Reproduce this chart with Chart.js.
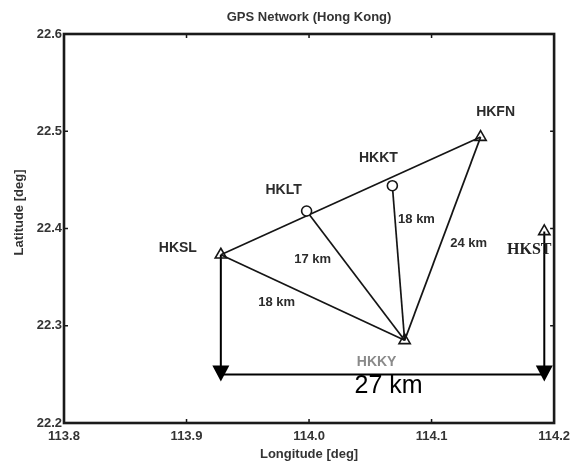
<!DOCTYPE html>
<html>
<head>
<meta charset="utf-8">
<script src="https://cdn.jsdelivr.net/npm/chart.js@4.4.1/dist/chart.umd.min.js"></script>
<style>
  html, body { margin: 0; padding: 0; background: #fff; }
  #wrap { width: 576px; height: 467px; position: relative; }
</style>
</head>
<body>
<div id="wrap"><canvas id="c" width="576" height="467"></canvas></div>
<script>
// GPS stations (longitude / latitude in degrees)
const stations   = ['HKSL', 'HKLT', 'HKKT', 'HKFN', 'HKKY', 'HKST'];
const longitudes = [113.928, 113.998, 114.068, 114.140, 114.078, 114.192];
const latitudes  = [22.373, 22.418, 22.444, 22.494, 22.285, 22.397];
const markerShapes = ['triangle', 'circle', 'circle', 'triangle', 'triangle', 'triangle'];

// baselines between stations and their lengths
const baselineFrom   = ['HKSL', 'HKSL', 'HKLT', 'HKKT', 'HKFN'];
const baselineTo     = ['HKFN', 'HKKY', 'HKKY', 'HKKY', 'HKKY'];
const baselineLabels = ['', '18 km', '17 km', '18 km', '24 km'];

// east-west span between HKSL and HKST
const spanFrom = 'HKSL';
const spanTo = 'HKST';
const spanLatitude = 22.25;
const spanLabel = '27 km';

// axis ticks
const xTicks = [113.8, 113.9, 114.0, 114.1, 114.2];
const yTicks = [22.2, 22.3, 22.4, 22.5, 22.6];

const titleText = 'GPS Network (Hong Kong)';
const xTitle = 'Longitude [deg]';
const yTitle = 'Latitude [deg]';

const at = name => { const i = stations.indexOf(name); return { x: longitudes[i], y: latitudes[i] }; };

// ---- drawing styles ----
const INK = '#151515';
const TEXT = '#2b2b2b';
const SANS = '"Liberation Sans", Arial, sans-serif';
const stationLabelOffset = {           // px, relative to the marker
  HKSL: [-43, -7], HKLT: [-23, -21], HKKT: [-14, -28],
  HKFN: [15, -25], HKKY: [-28, 22], HKST: [-15, 18]
};
const baselineLabelOffset = [null, [-36, 5], [-43, -16], [18, -44], [26, 5]]; // px, from segment midpoint
const spanLabelOffset = [6, 12];

const datasets = [];

// station markers (drawn on top)
datasets.push({
  type: 'scatter',
  data: stations.map(s => at(s)),
  pointStyle: markerShapes,
  pointRadius: markerShapes.map(m => m === 'circle' ? 5 : 6.5),
  pointBorderWidth: 1.6,
  pointBorderColor: INK,
  pointBackgroundColor: markerShapes.map(m => m === 'circle' ? '#ffffff' : 'rgba(0,0,0,0)'),
  pointHoverRadius: 0
});

// baselines
baselineFrom.forEach((f, i) => {
  datasets.push({
    type: 'line',
    data: [at(f), at(baselineTo[i])],
    borderColor: INK,
    borderWidth: 1.7,
    pointRadius: 0,
    tension: 0
  });
});

// span marker: down from HKSL, across, up to HKST
datasets.push({
  type: 'line',
  data: [
    at(spanFrom),
    { x: at(spanFrom).x, y: spanLatitude },
    { x: at(spanTo).x, y: spanLatitude },
    at(spanTo)
  ],
  borderColor: '#000',
  borderWidth: 2,
  pointRadius: 0,
  tension: 0
});

const overlay = {
  id: 'overlay',
  afterDatasetsDraw(chart) {
    const ctx = chart.ctx;
    const xs = chart.scales.x, ys = chart.scales.y;
    const a = chart.chartArea;
    const px = p => [xs.getPixelForValue(p.x), ys.getPixelForValue(p.y)];
    ctx.save();

    // arrowheads at both ends of the span
    ctx.fillStyle = '#000';
    [spanFrom, spanTo].forEach(s => {
      const [x, y] = px({ x: at(s).x, y: spanLatitude });
      ctx.beginPath();
      ctx.moveTo(x - 8.5, y - 9);
      ctx.lineTo(x + 8.5, y - 9);
      ctx.lineTo(x, y + 7);
      ctx.closePath();
      ctx.fill();
    });

    ctx.textAlign = 'center';
    ctx.textBaseline = 'middle';

    // station names
    stations.forEach(s => {
      const [x, y] = px(at(s));
      const o = stationLabelOffset[s];
      if (s === 'HKST') {
        ctx.font = 'bold 16px "Liberation Serif", "Times New Roman", serif';
        ctx.fillStyle = '#222';
      } else if (s === 'HKKY') {
        ctx.font = 'bold 14px ' + SANS;
        ctx.fillStyle = '#8a8a8a';
      } else {
        ctx.font = 'bold 14px ' + SANS;
        ctx.fillStyle = TEXT;
      }
      ctx.fillText(s, x + o[0], y + o[1]);
    });

    // baseline lengths
    ctx.font = 'bold 13px ' + SANS;
    ctx.fillStyle = TEXT;
    baselineLabels.forEach((t, i) => {
      if (!t) return;
      const [x1, y1] = px(at(baselineFrom[i]));
      const [x2, y2] = px(at(baselineTo[i]));
      const o = baselineLabelOffset[i];
      ctx.fillText(t, (x1 + x2) / 2 + o[0], (y1 + y2) / 2 + o[1]);
    });

    // span length
    {
      const [x1, y] = px({ x: at(spanFrom).x, y: spanLatitude });
      const [x2] = px({ x: at(spanTo).x, y: spanLatitude });
      ctx.font = '25px ' + SANS;
      ctx.fillStyle = '#000';
      ctx.fillText(spanLabel, (x1 + x2) / 2 + spanLabelOffset[0], y + spanLabelOffset[1]);
    }

    // inward tick marks on all four sides
    ctx.strokeStyle = INK;
    ctx.lineWidth = 1.5;
    ctx.beginPath();
    xTicks.forEach(v => {
      const x = xs.getPixelForValue(v);
      ctx.moveTo(x, a.bottom); ctx.lineTo(x, a.bottom - 4);
      ctx.moveTo(x, a.top); ctx.lineTo(x, a.top + 4);
    });
    yTicks.forEach(v => {
      const y = ys.getPixelForValue(v);
      ctx.moveTo(a.left, y); ctx.lineTo(a.left + 4, y);
      ctx.moveTo(a.right, y); ctx.lineTo(a.right - 4, y);
    });
    ctx.stroke();

    // plot frame
    ctx.lineWidth = 2.6;
    ctx.strokeStyle = '#1a1a1a';
    ctx.strokeRect(a.left, a.top, a.right - a.left, a.bottom - a.top);

    // title
    ctx.font = 'bold 13px ' + SANS;
    ctx.fillStyle = '#333';
    ctx.fillText(titleText, (a.left + a.right) / 2, 17);

    // latitude axis title, a little above the middle of the axis
    ctx.save();
    ctx.translate(19, (a.top + a.bottom) / 2 - 16);
    ctx.rotate(-Math.PI / 2);
    ctx.font = 'bold 13px ' + SANS;
    ctx.fillStyle = '#333';
    ctx.fillText(yTitle, 0, 0);
    ctx.restore();

    ctx.restore();
  }
};

new Chart(document.getElementById('c'), {
  data: { datasets },
  options: {
    responsive: false,
    animation: false,
    events: [],
    layout: { padding: { top: 34, right: 20, left: 0, bottom: 0 } },
    plugins: { legend: { display: false }, tooltip: { enabled: false }, title: { display: false } },
    scales: {
      x: {
        type: 'linear',
        min: 113.8, max: 114.2,
        grid: { display: false, drawTicks: false },
        border: { display: false },
        afterBuildTicks: s => { s.ticks = xTicks.map(v => ({ value: v })); },
        afterFit: s => { s.height = 44; },
        ticks: {
          padding: 6,
          color: '#333',
          font: { family: SANS, size: 13, weight: 'bold' },
          maxRotation: 0,
          autoSkip: false,
          callback: v => v.toFixed(1)
        },
        title: {
          display: true, text: xTitle, color: '#333',
          font: { family: SANS, size: 13, weight: 'bold' },
          padding: { top: 0, bottom: 5 }
        }
      },
      y: {
        type: 'linear',
        min: 22.2, max: 22.6,
        grid: { display: false, drawTicks: false },
        border: { display: false },
        afterBuildTicks: s => { s.ticks = yTicks.map(v => ({ value: v })); },
        afterFit: s => { s.width = 64; },
        ticks: {
          padding: 2,
          color: '#333',
          font: { family: SANS, size: 13, weight: 'bold' },
          autoSkip: false,
          callback: v => v.toFixed(1)
        },
        title: { display: false }
      }
    }
  },
  plugins: [overlay]
});
</script>
</body>
</html>
